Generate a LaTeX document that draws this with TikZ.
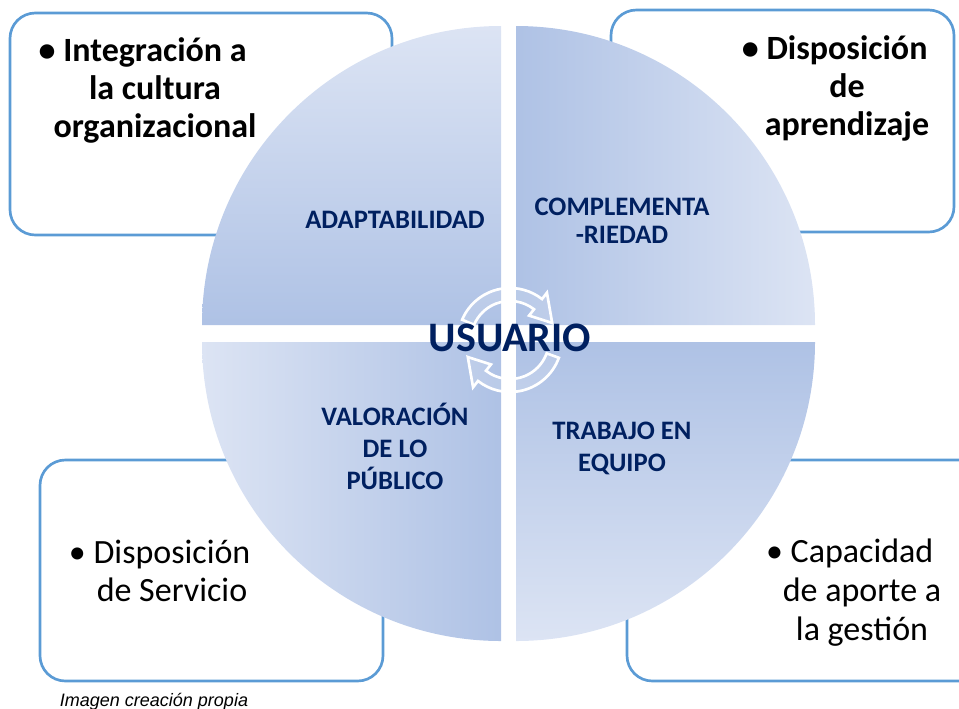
\documentclass[tikz,border=0pt]{standalone}
\usepackage{fontspec}
\setmainfont{Carlito}
\newfontfamily\captionfont{Liberation Sans}
\usetikzlibrary{calc}

\definecolor{boxblue}{RGB}{91,155,213}
\definecolor{navytext}{RGB}{0,32,96}
\definecolor{qlight}{RGB}{243,245,251}
\definecolor{qdark}{RGB}{168,189,227}
\definecolor{qmid}{RGB}{193,207,235}

\pgfdeclarehorizontalshading{quadshade}{100bp}{color(0bp)=(qlight); color(82bp)=(qdark); color(100bp)=(qmid)}

\tikzset{
	boxline/.style={draw=boxblue, line width=2pt, rounded corners=19pt},
	quadfill/.style={shading=quadshade, draw=none},
	boxtext/.style={align=center, font=\fontsize{25.5}{28.5}\selectfont},
	quadtext/.style={align=center, text=navytext, font=\fontsize{20}{24}\selectfont\bfseries},
	ringarrow/.style={draw=white, line width=2pt, fill=white, fill opacity=0.15}}
\tikzset{every picture/.style={line width=0.75pt}}

\begin{document}
\begin{tikzpicture}[x=0.75pt,y=0.75pt,yscale=-1,xscale=1]
	\useasboundingbox (0,0) rectangle (959,708);

	%Shape: Rounded Rect [id:box-tl]
	\draw [boxline] (10,13) rectangle (392,235);
	%Shape: Rounded Rect [id:box-tr]
	\draw [boxline] (611,10) rectangle (954,232);
	%Shape: Rounded Rect [id:box-bl]
	\draw [boxline] (40,460) rectangle (383,681);
	%Shape: Rounded Rect [id:box-br]
	\draw [boxline] (627,460) rectangle (985,681);

	%Shape: Quarter Circle [id:quad-tl]
	\shade [quadfill, shading angle=-90] (501,325) -- (202,325) arc [start angle=180, end angle=270, radius=299] -- cycle;
	%Shape: Quarter Circle [id:quad-tr]
	\shade [quadfill, shading angle=180] (516,325) -- (815,325) arc [start angle=0, end angle=-90, radius=299] -- cycle;
	%Shape: Quarter Circle [id:quad-bl]
	\shade [quadfill, shading angle=0] (501,342) -- (202,342) arc [start angle=180, end angle=90, radius=299] -- cycle;
	%Shape: Quarter Circle [id:quad-br]
	\shade [quadfill, shading angle=90] (516,342) -- (815,342) arc [start angle=0, end angle=90, radius=299] -- cycle;

	\coordinate (ringc) at (510,340);
	%Curve Lines [id:arrow-top]
	\draw [ringarrow] ($(ringc)+(-157:52)$) arc [start angle=-157, end angle=-52, radius=52] -- ($(ringc)+(-52:60)$) -- ($(ringc)+(-22:45.5)$) -- ($(ringc)+(-52:31)$) -- ($(ringc)+(-52:39)$) arc [start angle=-52, end angle=-157, radius=39] -- cycle ;
	%Curve Lines [id:arrow-bottom]
	\draw [ringarrow] ($(ringc)+(20:52)$) arc [start angle=20, end angle=128, radius=52] -- ($(ringc)+(128:60)$) -- ($(ringc)+(158:45.5)$) -- ($(ringc)+(128:31)$) -- ($(ringc)+(128:39)$) arc [start angle=128, end angle=20, radius=39] -- cycle ;

	% Text Node
	\node [boxtext, font=\fontsize{25.5}{28.5}\selectfont\bfseries] (integracion) at (155,90) {\llap{\textbullet\ }Integración a\\la cultura\\organizacional};
	% Text Node
	\node [boxtext, font=\fontsize{25.5}{28.5}\selectfont\bfseries] (aprendizaje) at (847,88) {\llap{\textbullet\ }Disposición\\de\\aprendizaje};
	% Text Node
	\node [boxtext] (servicio) at (172,571) {\llap{\textbullet\ }Disposición\\de Servicio};
	% Text Node
	\node [boxtext, font=\fontsize{25.5}{29.25}\selectfont] (gestion) at (862,593) {\llap{\textbullet\ }Capacidad\\de aporte a\\la gestión};

	% Text Node
	\node [quadtext] (adaptabilidad) at (395,220) {ADAPTABILIDAD};
	% Text Node
	\node [quadtext, font=\fontsize{20}{21}\selectfont\bfseries] (complementa) at (622,221) {COMPLEMENTA\\-RIEDAD};
	% Text Node
	\node [quadtext] (valoracion) at (395,446) {VALORACIÓN\\DE LO\\PÚBLICO};
	% Text Node
	\node [quadtext] (trabajo) at (622,448) {TRABAJO EN\\EQUIPO};

	% Text Node
	\node [text=navytext, font=\fontsize{31.5}{36}\selectfont\bfseries] (usuario) at (510,338) {USUARIO};

	% Text Node
	\node [anchor=base west, font=\captionfont\fontsize{13.5}{16}\selectfont\itshape] (caption) at (55,706) {Imagen creación propia};

\end{tikzpicture}
\end{document}
